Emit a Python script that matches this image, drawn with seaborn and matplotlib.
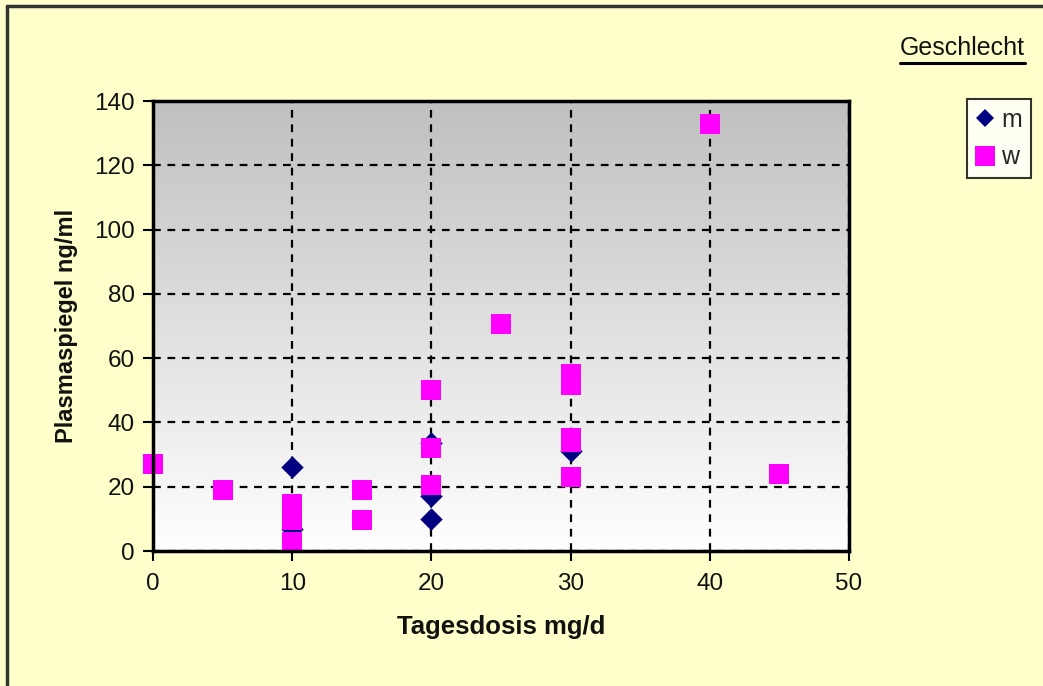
import numpy as np
import pandas as pd
import matplotlib
matplotlib.use("Agg")
import matplotlib.pyplot as plt
import seaborn as sns
from matplotlib.lines import Line2D
from matplotlib.colors import LinearSegmentedColormap

# ---- data ----
m_x = [10, 10, 20, 20, 20, 30]
m_y = [26, 7, 33.5, 17, 10, 31]
w_x = [0, 5, 10, 10, 10, 15, 15, 20, 20, 20, 25, 30, 30, 30, 30, 30, 40, 45]
w_y = [27, 19, 14.5, 9.6, 2.7, 19, 9.6, 50, 32.2, 20.5, 70.6, 55.2, 51.8, 35.3, 33.8, 22.9, 133, 24]
x_ticks = [0, 10, 20, 30, 40, 50]
y_ticks = [0, 20, 40, 60, 80, 100, 120, 140]
groups = ["m", "w"]

df = pd.concat([
    pd.DataFrame({"Tagesdosis": m_x, "Plasma": m_y, "Geschlecht": "m"}),
    pd.DataFrame({"Tagesdosis": w_x, "Plasma": w_y, "Geschlecht": "w"}),
], ignore_index=True)

sns.set_style("white")
plt.rcParams["font.family"] = ["Liberation Sans", "DejaVu Sans"]

W, H = 1043, 686
fig = plt.figure(figsize=(W / 100, H / 100), dpi=100, facecolor="#FFFFCC")
ax = fig.add_axes([153 / W, 1 - 551 / H, (849 - 153) / W, (551 - 101) / H])

# gradient background
grad = np.linspace(0, 1, 256).reshape(-1, 1)
cmap = LinearSegmentedColormap.from_list("g", ["#FFFFFF", "#C0C0C0"])
ax.imshow(grad, extent=[0, 1, 0, 1], transform=ax.transAxes, origin="lower",
          aspect="auto", cmap=cmap, zorder=0)

ax.set_xlim(0, 50)
ax.set_ylim(0, 140)
ax.set_xticks(x_ticks)
ax.set_yticks(y_ticks)
ax.grid(True, color="black", linestyle=(0, (3.5, 3)), linewidth=1.6, zorder=1)
ax.set_axisbelow(False)

palette = {"m": "#000080", "w": "#FF00FF"}
markers = {"m": "D", "w": "s"}
sizes = {"m": 130, "w": 190}
for g in groups:
    sub = df[df["Geschlecht"] == g]
    sns.scatterplot(data=sub, x="Tagesdosis", y="Plasma", color=palette[g],
                    marker=markers[g], s=sizes[g], linewidth=0, ax=ax,
                    zorder=3, clip_on=False, legend=False)

for sp in ax.spines.values():
    sp.set_color("black")
    sp.set_linewidth(2.5)
    sp.set_zorder(4)

ax.tick_params(axis="both", direction="out", length=7, width=1.5, color="black",
               labelsize=17.5, left=True, bottom=True, labelcolor="#111111")
ax.tick_params(axis="x", pad=9)
ax.tick_params(axis="y", pad=6)
ax.set_xlabel("Tagesdosis mg/d", fontsize=18.5, fontweight="bold", labelpad=14,
              color="#111111")
ax.set_ylabel("Plasmaspiegel ng/ml", fontsize=17, fontweight="bold", labelpad=12,
              color="#111111")

# legend
handles = [
    Line2D([], [], marker="D", color="none", markerfacecolor=palette["m"],
           markeredgewidth=0, markersize=9.5),
    Line2D([], [], marker="s", color="none", markerfacecolor=palette["w"],
           markeredgewidth=0, markersize=14),
]
leg = fig.legend(handles, groups, loc="upper right",
                 bbox_to_anchor=(1031 / W, 1 - 99 / H), frameon=True,
                 fontsize=18, handlelength=0.8, handletextpad=0.25,
                 borderpad=0.35, labelspacing=0.55, fancybox=False,
                 borderaxespad=0)
leg.get_frame().set_edgecolor("black")
leg.get_frame().set_linewidth(1.5)
leg.get_frame().set_facecolor("white")

# title "Geschlecht" underlined
t = fig.text(1025 / W, 1 - 48 / H, "Geschlecht", ha="right", va="center",
             fontsize=18, color="#111111")
fig.canvas.draw()
bb = t.get_window_extent().transformed(fig.transFigure.inverted())
fig.add_artist(Line2D([bb.x0, bb.x1], [bb.y0 - 0.005, bb.y0 - 0.005],
                      transform=fig.transFigure, color="black", linewidth=2.2))

# figure border (left and top)
fig.add_artist(Line2D([7 / W, 7 / W], [0, 1 - 6 / H], transform=fig.transFigure,
                      color="#333333", linewidth=2.5))
fig.add_artist(Line2D([7 / W, 1], [1 - 6 / H, 1 - 6 / H], transform=fig.transFigure,
                      color="#333333", linewidth=2.5))

fig.savefig("out.png", dpi=100, facecolor=fig.get_facecolor())
